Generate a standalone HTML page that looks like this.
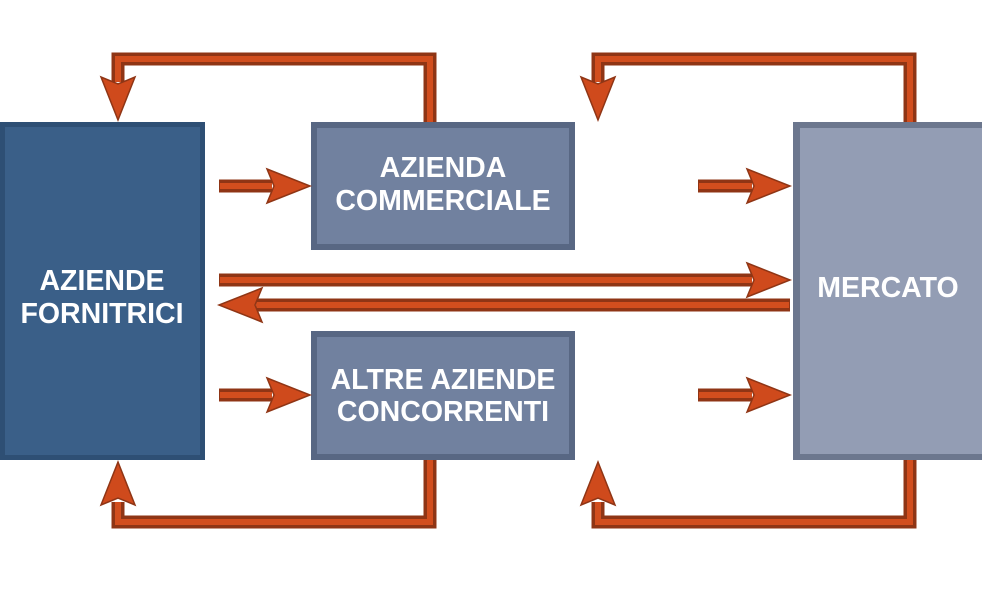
<!DOCTYPE html>
<html><head><meta charset="utf-8"><style>
body{margin:0;background:#fff;}
svg{display:block}
text{font-family:"Liberation Sans",Arial,sans-serif;font-weight:bold;fill:#fff;text-anchor:middle}
</style></head><body>
<svg width="982" height="593" viewBox="0 0 982 593" xmlns="http://www.w3.org/2000/svg">
<defs>
<g id="hR"><polygon points="0,-17 43,0 0,17 7,0" fill="#cf4a1c" stroke="#8f3515" stroke-width="1.5"/></g>
</defs>
<!-- boxes -->
<rect x="0" y="122" width="205" height="338" fill="#2e4f74"/>
<rect x="5" y="127" width="195" height="328" fill="#3a5f88"/>
<rect x="311" y="122" width="264" height="128" fill="#586783"/>
<rect x="317" y="128" width="252" height="116" fill="#71819f"/>
<rect x="311" y="331" width="264" height="129" fill="#586783"/>
<rect x="317" y="337" width="252" height="117" fill="#71819f"/>
<rect x="793" y="122" width="189" height="338" fill="#6c778e"/>
<rect x="800" y="128" width="182" height="326" fill="#939db4"/>
<g font-size="28.5">
<text x="102" y="290">AZIENDE</text>
<text x="102" y="323">FORNITRICI</text>
<text x="443" y="177">AZIENDA</text>
<text x="443" y="210">COMMERCIALE</text>
<text x="443" y="389">ALTRE AZIENDE</text>
<text x="443" y="421">CONCORRENTI</text>
<text x="888" y="297">MERCATO</text>
</g>
<!-- lines -->
<g fill="none" stroke-linejoin="miter">
<g stroke="#8f3515" stroke-width="13">
<polyline points="430,122 430,59 118,59 118,82"/>
<polyline points="910,122 910,59 598,59 598,82"/>
<polyline points="430,460 430,522 118,522 118,502"/>
<polyline points="910,460 910,522 598,522 598,502"/>
<line x1="219" y1="186" x2="272" y2="186"/>
<line x1="698" y1="186" x2="752" y2="186"/>
<line x1="219" y1="395" x2="272" y2="395"/>
<line x1="698" y1="395" x2="752" y2="395"/>
<line x1="219" y1="280" x2="752" y2="280"/>
<line x1="256" y1="305" x2="790" y2="305"/>
</g>
<g stroke="#d24e1e" stroke-width="6">
<polyline points="430,122 430,59 118,59 118,82"/>
<polyline points="910,122 910,59 598,59 598,82"/>
<polyline points="430,460 430,522 118,522 118,502"/>
<polyline points="910,460 910,522 598,522 598,502"/>
<line x1="220" y1="186" x2="272" y2="186"/>
<line x1="699" y1="186" x2="752" y2="186"/>
<line x1="220" y1="395" x2="272" y2="395"/>
<line x1="699" y1="395" x2="752" y2="395"/>
<line x1="220" y1="280" x2="752" y2="280"/>
<line x1="256" y1="305" x2="789" y2="305"/>
</g>
</g>
<!-- heads -->
<use href="#hR" transform="translate(267,186)"/>
<use href="#hR" transform="translate(747,186)"/>
<use href="#hR" transform="translate(267,395)"/>
<use href="#hR" transform="translate(747,395)"/>
<use href="#hR" transform="translate(747,280)"/>
<use href="#hR" transform="translate(262,305) rotate(180)"/>
<use href="#hR" transform="translate(118,77) rotate(90)"/>
<use href="#hR" transform="translate(598,77) rotate(90)"/>
<use href="#hR" transform="translate(118,505) rotate(-90)"/>
<use href="#hR" transform="translate(598,505) rotate(-90)"/>
</svg>
</body></html>
